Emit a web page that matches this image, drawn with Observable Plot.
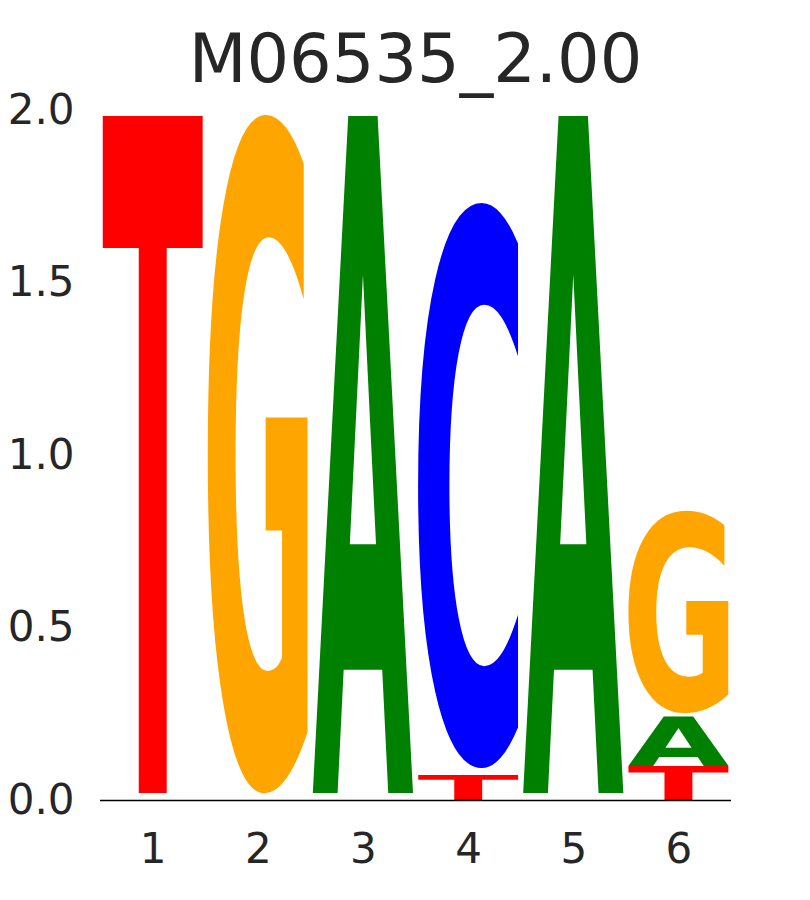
<!DOCTYPE html>
<html>
<head>
<meta charset="utf-8">
<script src="https://cdn.jsdelivr.net/npm/d3@7"></script>
<script src="https://cdn.jsdelivr.net/npm/@observablehq/plot@0.6"></script>
<style>
  html, body { margin: 0; padding: 0; background: #fff; }
  #wrap { position: relative; width: 810px; height: 900px; }
  #title { position: absolute; left: 100px; width: 631px; top: 24px; height: 70px; line-height: 70px;
           text-align: center; font-family: "DejaVu Sans"; font-size: 67px; color: #262626; }
  #chart { position: absolute; left: 0; top: 0; }
</style>
</head>
<body>
<div id="wrap">
  <div id="chart"></div>
  <div id="title"></div>
</div>
<script>
const title = "M06535_2.00";
const positions = [1, 2, 3, 4, 5, 6];
const yTicks = [0, 0.5, 1, 1.5, 2];
const glyphPos    = [1, 2, 3, 4, 4, 5, 6, 6, 6];
const glyphChar   = ["T", "G", "A", "T", "C", "A", "T", "A", "G"];
const glyphBottom = [0.02, 0.02, 0.02, 0.0, 0.093, 0.02, 0.0, 0.099, 0.252];
const glyphTop    = [1.985, 1.985, 1.985, 0.072, 1.730, 1.985, 0.096, 0.243, 0.838];
const letterColors = {A: "#008000", C: "#0000ff", G: "#ffa500", T: "#ff0000"};

const glyphs = glyphPos.map((p, i) => ({pos: p, letter: glyphChar[i], bottom: glyphBottom[i], top: glyphTop[i]}));

document.getElementById("title").textContent = title;

// Ink bounds of a glyph, found by drawing it on a canvas and scanning its pixels.
const FS = 500, CW = 900, OX = 200, OY = 700;
const inkCache = {};
function inkBounds(ch) {
  if (inkCache[ch]) return inkCache[ch];
  const cv = document.createElement("canvas");
  cv.width = CW; cv.height = CW;
  const ctx = cv.getContext("2d");
  ctx.font = `bold ${FS}px 'DejaVu Sans'`;
  ctx.fillStyle = "#000";
  ctx.textBaseline = "alphabetic";
  ctx.textAlign = "left";
  ctx.fillText(ch, OX, OY);
  const data = ctx.getImageData(0, 0, CW, CW).data;
  let x0 = CW, x1 = -1, y0 = CW, y1 = -1;
  for (let y = 0; y < CW; y++) {
    for (let x = 0; x < CW; x++) {
      if (data[(y * CW + x) * 4 + 3] > 127) {
        if (x < x0) x0 = x; if (x > x1) x1 = x;
        if (y < y0) y0 = y; if (y > y1) y1 = y;
      }
    }
  }
  // bounds relative to the text origin
  const b = {left: x0 - OX, right: x1 + 1 - OX, top: y0 - OY, bottom: y1 + 1 - OY};
  inkCache[ch] = b;
  return b;
}

const chart = Plot.plot({
  width: 810,
  height: 900,
  marginTop: 110,
  marginBottom: 100,
  marginLeft: 100,
  marginRight: 79,
  style: {fontFamily: "DejaVu Sans", color: "#262626", background: "transparent"},
  x: {domain: [0.5, 6.5]},
  y: {domain: [0, 2]},
  marks: [
    Plot.rect(glyphs, {
      x1: d => d.pos - 0.475,
      x2: d => d.pos + 0.475,
      y1: "bottom",
      y2: "top",
      render(index, scales, values) {
        const g = d3.create("svg:g");
        for (const i of index) {
          const ch = glyphs[i].letter;
          const b = inkBounds(ch);
          const X1 = Math.min(values.x1[i], values.x2[i]), X2 = Math.max(values.x1[i], values.x2[i]);
          const Yt = Math.min(values.y1[i], values.y2[i]), Yb = Math.max(values.y1[i], values.y2[i]);
          const sx = (X2 - X1) / (b.right - b.left), sy = (Yb - Yt) / (b.bottom - b.top);
          g.append("text")
            .attr("font-family", "DejaVu Sans")
            .attr("font-weight", "bold")
            .attr("font-size", FS)
            .attr("text-anchor", "start")
            .attr("fill", letterColors[ch])
            .attr("transform", `translate(${X1},${Yt}) scale(${sx},${sy}) translate(${-b.left},${-b.top})`)
            .text(ch);
        }
        return g.node();
      }
    }),
    Plot.ruleY([0], {stroke: "black", strokeWidth: 1.3}),
    Plot.axisY(yTicks, {tickSize: 0, tickPadding: 26, fontSize: 42, tickFormat: d3.format(".1f"), label: null}),
    Plot.axisX(positions, {tickSize: 0, tickPadding: 33, fontSize: 42, tickFormat: d => String(d), label: null})
  ]
});
document.getElementById("chart").appendChild(chart);
</script>
</body>
</html>
